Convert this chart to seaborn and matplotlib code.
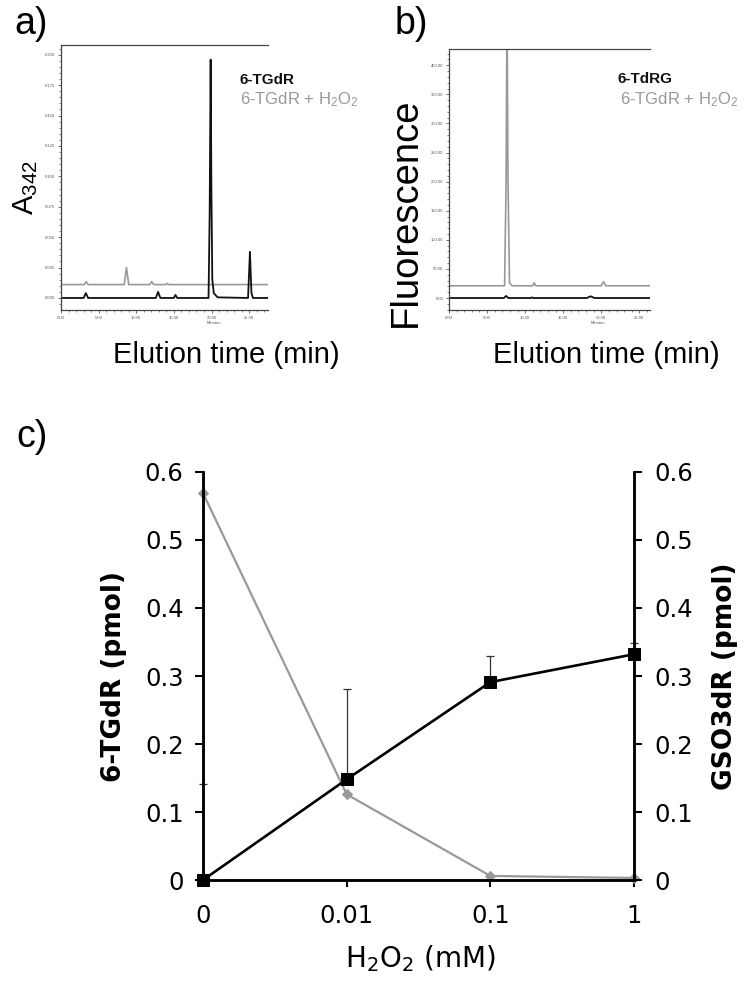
import numpy as np
import matplotlib
matplotlib.use("Agg")
import matplotlib.pyplot as plt
from matplotlib.ticker import AutoMinorLocator
import seaborn as sns

# ---- panel a: HPLC trace, absorbance at 342 nm
a_time_tgdr = [0, 3.0, 3.3, 3.6, 12.6, 12.9, 13.2, 15.0, 15.2, 15.45,
               19.6, 19.75, 19.88, 19.98, 20.1, 20.3, 20.8, 24.85, 25.1, 25.3, 25.5, 27.5]
a_abs_tgdr = [0, 0, 0.004, 0, 0, 0.005, 0, 0, 0.0025, 0,
              0, 0.07, 0.196, 0.09, 0.015, 0.004, 0.0005, 0, 0.038, 0.004, 0, 0]
a_time_h2o2 = [0, 3.1, 3.35, 3.6, 8.4, 8.7, 9.0, 11.8, 12.05, 12.3, 13.9, 14.1, 14.3, 27.5]
a_abs_h2o2 = [0.011, 0.011, 0.0135, 0.011, 0.011, 0.025, 0.011, 0.011, 0.0135, 0.011,
              0.011, 0.012, 0.011, 0.011]
a_yticks = [0, 0.025, 0.05, 0.075, 0.1, 0.125, 0.15, 0.175, 0.2]
a_yticklabels = ["0.000", "0.025", "0.050", "0.075", "0.100", "0.125", "0.150", "0.175", "0.200"]

# ---- panel b: HPLC trace, fluorescence
b_time_tdrg = [0, 7.2, 7.5, 7.8, 10.7, 10.9, 11.1, 18.1, 18.6, 19.1, 26.4]
b_fl_tdrg = [0, 0, 3.5, 0, 0, 1, 0, 0, 3, 0, 0]
b_time_h2o2 = [0, 7.3, 7.5, 7.62, 7.75, 7.95, 8.3, 11.0, 11.2, 11.4, 20.0, 20.3, 20.6, 26.4]
b_fl_h2o2 = [21, 21, 200, 520, 200, 26, 21, 21, 26, 21, 21, 28, 21, 21]
b_yticks = [0, 50, 100, 150, 200, 250, 300, 350, 400]
b_yticklabels = ["0.00", "50.00", "100.00", "150.00", "200.00", "250.00", "300.00", "350.00", "400.00"]

time_ticks = [0, 5, 10, 15, 20, 25]
time_ticklabels = ["0.00", "5.00", "10.00", "15.00", "20.00", "25.00"]

# ---- panel c: amounts vs H2O2
conc_labels = ["0", "0.01", "0.1", "1"]
tgdr_pmol = [0.569, 0.126, 0.006, 0.003]
gso3dr_pmol = [0.0, 0.148, 0.291, 0.332]
gso3dr_err = [0.141, 0.133, 0.038, 0.017]
pmol_ticks = [0, 0.1, 0.2, 0.3, 0.4, 0.5, 0.6]
pmol_ticklabels = ["0", "0.1", "0.2", "0.3", "0.4", "0.5", "0.6"]

GRAY = "#999999"
W, H = 750, 989

sns.set_theme(style="white")
plt.rcParams["font.family"] = ["Liberation Sans", "DejaVu Sans"]
plt.rcParams["text.color"] = "black"
plt.rcParams["axes.labelcolor"] = "black"
plt.rcParams["mathtext.fontset"] = "custom"
plt.rcParams["mathtext.rm"] = "Liberation Sans"
plt.rcParams["mathtext.it"] = "Liberation Sans"


def frac(x, y):
    return x / W, 1 - y / H


def box(l, t, r, b):
    return [l / W, 1 - b / H, (r - l) / W, (b - t) / H]


def chromatogram(ax, xmax, ylim, yticks, yticklabels):
    ax.set_xlim(0, xmax)
    ax.set_ylim(*ylim)
    ax.set_xticks(time_ticks)
    ax.set_xticklabels(time_ticklabels)
    ax.set_yticks(yticks)
    ax.set_yticklabels(yticklabels)
    ax.xaxis.set_minor_locator(AutoMinorLocator(5))
    ax.yaxis.set_minor_locator(AutoMinorLocator(5))
    ax.tick_params(which="major", length=2.5, width=0.6, labelsize=3, pad=1.5,
                   colors="#555555", bottom=True, left=True)
    ax.tick_params(which="minor", length=1.5, width=0.5, bottom=True, left=True, colors="#555555")
    ax.spines["right"].set_visible(False)
    for s in ["left", "bottom", "top"]:
        ax.spines[s].set_color("#444444")
        ax.spines[s].set_linewidth(0.9)
    ax.set_xlabel("")
    ax.set_ylabel("")
    ax.text(0.74, -0.05, "Minutes", transform=ax.transAxes, fontsize=3,
            color="#555555", ha="center", va="center")


fig = plt.figure(figsize=(7.5, 9.89), dpi=100)

# panel a
ax_a = fig.add_axes(box(61, 45, 268, 310))
sns.lineplot(x=a_time_h2o2, y=a_abs_h2o2, ax=ax_a, color=GRAY, lw=1.2,
             estimator=None, sort=False)
sns.lineplot(x=a_time_tgdr, y=a_abs_tgdr, ax=ax_a, color="#111111", lw=1.3,
             estimator=None, sort=False)
chromatogram(ax_a, 27.5, (-0.0099, 0.208), a_yticks, a_yticklabels)
fig.text(*frac(26, 188), r"A$_{\mathrm{342}}$", rotation=90, fontsize=21,
         ha="center", va="center")
fig.text(*frac(226, 355), "Elution time (min)", fontsize=21, ha="center", va="center")
fig.text(*frac(240, 80), "6-TGdR", fontsize=11, fontweight="bold", color="#111111",
         ha="left", va="center")
fig.text(*frac(240, 100), r"6-TGdR + H$_{\mathrm{2}}$O$_{\mathrm{2}}$", fontsize=12,
         color=GRAY, ha="left", va="center")
fig.text(*frac(14, 24), "a)", fontsize=27, ha="left", va="center")

# panel b
ax_b = fig.add_axes(box(449, 49, 650, 310))
sns.lineplot(x=b_time_h2o2, y=b_fl_h2o2, ax=ax_b, color=GRAY, lw=1.2,
             estimator=None, sort=False)
sns.lineplot(x=b_time_tdrg, y=b_fl_tdrg, ax=ax_b, color="#111111", lw=1.3,
             estimator=None, sort=False)
chromatogram(ax_b, 26.4, (-20.6, 428), b_yticks, b_yticklabels)
fig.text(*frac(406, 212), "Fluorescence", rotation=90, fontsize=27.5,
         ha="center", va="center")
fig.text(*frac(606, 355), "Elution time (min)", fontsize=21, ha="center", va="center")
fig.text(*frac(618, 79), "6-TdRG", fontsize=11, fontweight="bold", color="#111111",
         ha="left", va="center")
fig.text(*frac(620, 100), r"6-TGdR + H$_{\mathrm{2}}$O$_{\mathrm{2}}$", fontsize=12,
         color=GRAY, ha="left", va="center")
fig.text(*frac(395, 24), "b)", fontsize=27, ha="left", va="center")

# panel c
DV = "DejaVu Sans"
pos = np.arange(len(conc_labels))
ax_c = fig.add_axes(box(203, 472, 634, 880))
sns.lineplot(x=pos, y=tgdr_pmol, ax=ax_c, color=GRAY, lw=1.6, marker="D",
             markersize=5.5, markeredgecolor=GRAY, estimator=None, sort=False)
ax_r = ax_c.twinx()
ax_r.errorbar(pos, gso3dr_pmol, yerr=[np.zeros(len(pos)), gso3dr_err], fmt="none",
              ecolor="#333333", elinewidth=0.9, capsize=3.2, capthick=0.9, clip_on=False)
sns.lineplot(x=pos, y=gso3dr_pmol, ax=ax_r, color="black", lw=1.9, marker="s",
             markersize=8, markeredgecolor="black", estimator=None, sort=False)
for a in (ax_c, ax_r):
    a.set_xlim(0, len(conc_labels) - 1)
    a.set_ylim(0, 0.6)
    a.set_yticks(pmol_ticks)
    for ln in a.lines:
        ln.set_clip_on(False)
    for child in a.collections:
        child.set_clip_on(False)
    a.spines["top"].set_visible(False)
    for s in ["left", "right", "bottom"]:
        a.spines[s].set_linewidth(1.8)
        a.spines[s].set_color("black")
ax_c.set_xticks(pos)
ax_c.set_xticklabels(conc_labels, fontsize=17.5, family=DV)
ax_c.set_yticklabels(pmol_ticklabels, fontsize=17.5, family=DV)
ax_r.set_yticklabels(pmol_ticklabels, fontsize=17.5, family=DV)
ax_c.tick_params(axis="x", bottom=True, length=5, width=1.5, pad=12, colors="black")
ax_c.tick_params(axis="y", left=True, length=6, width=1.5, pad=8, colors="black")
ax_r.tick_params(axis="y", right=True, length=6, width=1.5, pad=9, colors="black")
ax_c.set_ylabel("6-TGdR (pmol)", fontsize=19, fontweight="bold", family=DV)
ax_c.yaxis.set_label_coords(-0.176, 0.5)
ax_r.set_ylabel("GSO3dR (pmol)", fontsize=19, fontweight="bold", family=DV,
                rotation=90)
ax_r.yaxis.set_label_coords(1.18, 0.5)
ax_c.set_xlabel("")
fig.text(*frac(420, 959), r"H$_2$O$_2$ (mM)", fontsize=20, family=DV,
         math_fontfamily="dejavusans", ha="center", va="center")
fig.text(*frac(16, 437), "c)", fontsize=27, ha="left", va="center")

fig.savefig("out.png", dpi=100)
